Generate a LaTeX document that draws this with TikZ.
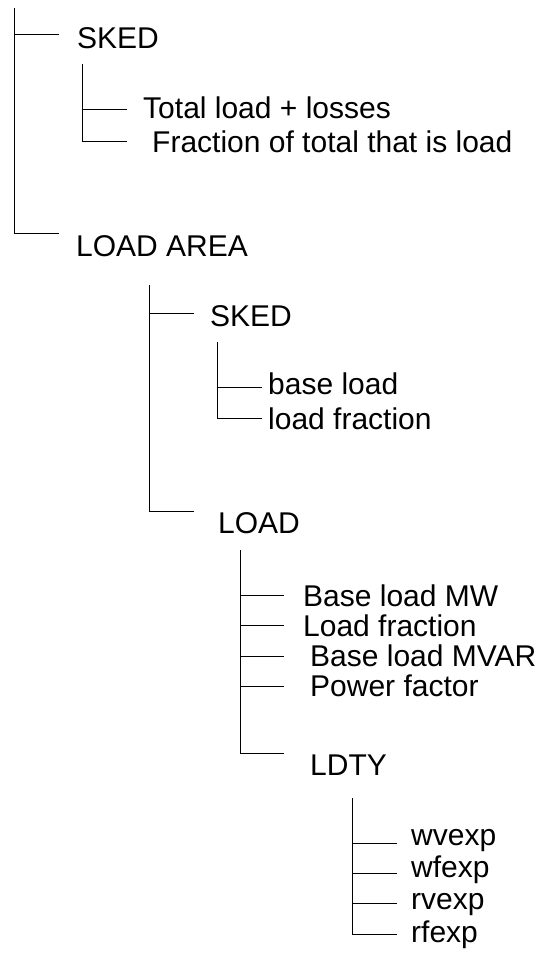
\documentclass[tikz,border=0pt]{standalone}
\usepackage{fontspec}
\setmainfont{Liberation Sans}
\tikzset{lbl/.style={anchor=base west,inner sep=0pt,font=\fontsize{30}{36}\selectfont},
  branch/.style={draw=black,line width=1pt}}

\begin{document}
\begin{tikzpicture}[x=1pt,y=-1pt]
\useasboundingbox (0,0) rectangle (540,953);
% top level
\coordinate (r0) at (14,8);
\coordinate (r1) at (59,34);
\coordinate (r2) at (59,233);
\node[lbl] (sked) at (77,48) {SKED};
\node[lbl] (larea) at (76,256) {LOAD AREA};
\path[branch] (r0) |- (r2);
\path[branch] (r0 |- r1) edge (r1);
% SKED
\coordinate (s0) at (82,64);
\coordinate (s1) at (127,109);
\coordinate (s2) at (127,141);
\node[lbl] (total) at (143,118) {Total load + losses};
\node[lbl] (frac) at (152,152) {Fraction of total that is load};
\path[branch] (s0) |- (s2);
\path[branch] (s0 |- s1) edge (s1);
% LOAD AREA
\coordinate (a0) at (149,285);
\coordinate (a1) at (194,313);
\coordinate (a2) at (194,511);
\node[lbl] (askd) at (210,326) {SKED};
\node[lbl] (load) at (218,533) {LOAD};
\path[branch] (a0) |- (a2);
\path[branch] (a0 |- a1) edge (a1);
% LOAD AREA / SKED
\coordinate (k0) at (217,342);
\coordinate (k1) at (262,387);
\coordinate (k2) at (262,418);
\node[lbl] (bload) at (268,394) {base load};
\node[lbl] (lfrac) at (268,429) {load fraction};
\path[branch] (k0) |- (k2);
\path[branch] (k0 |- k1) edge (k1);
% LOAD
\coordinate (l0) at (240,550);
\coordinate (l1) at (284,595);
\coordinate (l2) at (284,625);
\coordinate (l3) at (284,656);
\coordinate (l4) at (284,686);
\coordinate (l5) at (284,753);
\node[lbl] (mw) at (303,606) {Base load MW};
\node[lbl] (lf) at (303,636) {Load fraction};
\node[lbl] (mvar) at (310,666) {Base load MVAR};
\node[lbl] (pf) at (310,696) {Power factor};
\node[lbl] (ldty) at (310,775) {LDTY};
\path[branch] (l0) |- (l5);
\path[branch] (l0 |- l1) edge (l1);
\path[branch] (l0 |- l2) edge (l2);
\path[branch] (l0 |- l3) edge (l3);
\path[branch] (l0 |- l4) edge (l4);
% LDTY
\coordinate (d0) at (352,798);
\coordinate (d1) at (397,843);
\coordinate (d2) at (397,873);
\coordinate (d3) at (397,903);
\coordinate (d4) at (397,934);
\node[lbl] (wv) at (411,845) {wvexp};
\node[lbl] (wf) at (411,877) {wfexp};
\node[lbl] (rv) at (411,909) {rvexp};
\node[lbl] (rf) at (411,942) {rfexp};
\path[branch] (d0) |- (d4);
\path[branch] (d0 |- d1) edge (d1);
\path[branch] (d0 |- d2) edge (d2);
\path[branch] (d0 |- d3) edge (d3);
\end{tikzpicture}
\end{document}
